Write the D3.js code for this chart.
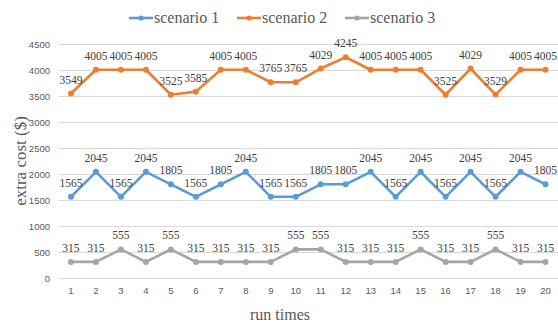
<!DOCTYPE html>
<html>
<head>
<meta charset="utf-8">
<script src="https://cdn.jsdelivr.net/npm/d3@7"></script>
<style>
  html, body { margin: 0; padding: 0; background: #fff; }
  svg { display: block; }
</style>
</head>
<body>
<svg id="chart" width="558" height="323"></svg>
<script>
// Run indices on the x axis
const runs = [1,2,3,4,5,6,7,8,9,10,11,12,13,14,15,16,17,18,19,20];

// Extra cost per run, one array per scenario
const scenario1 = [1565,2045,1565,2045,1805,1565,1805,2045,1565,1565,1805,1805,2045,1565,2045,1565,2045,1565,2045,1805];
const scenario2 = [3549,4005,4005,4005,3525,3585,4005,4005,3765,3765,4029,4245,4005,4005,4005,3525,4029,3529,4005,4005];
const scenario3 = [315,315,555,315,555,315,315,315,315,555,555,315,315,315,555,315,315,555,315,315];

const seriesNames = ["scenario 1", "scenario 2", "scenario 3"];
const seriesColors = ["#5B9BD5", "#ED7D31", "#A5A5A5"];
const yTicks = [0,500,1000,1500,2000,2500,3000,3500,4000,4500];

const series = [scenario1, scenario2, scenario3].map((vals, i) => ({
  name: seriesNames[i], color: seriesColors[i],
  points: vals.map((v, j) => ({ run: runs[j], value: v }))
}));

const svg = d3.select("#chart");
const plot = { left: 58.5, right: 558, top: 44, bottom: 278.3 };

const x = d3.scaleBand().domain(runs).range([plot.left, plot.right]).padding(0);
const cx = d => x(d) + x.bandwidth() / 2;
const y = d3.scaleLinear().domain([0, 4500]).range([plot.bottom, plot.top]);

// Horizontal gridlines
svg.append("g").selectAll("line").data(yTicks).join("line")
  .attr("x1", plot.left).attr("x2", plot.right)
  .attr("y1", d => Math.round(y(d)) + 0.5).attr("y2", d => Math.round(y(d)) + 0.5)
  .attr("stroke", "#D9D9D9").attr("stroke-width", 1);

// Y axis tick labels
const yAxis = d3.axisLeft(y).tickValues(yTicks).tickFormat(d3.format("d")).tickSize(0).tickPadding(0);
const gy = svg.append("g").attr("transform", `translate(50,0)`).call(yAxis);
gy.select(".domain").remove();
gy.selectAll("text")
  .attr("font-family", "'Liberation Sans', Arial, sans-serif")
  .attr("font-size", 9.5).attr("fill", "#595959").attr("dy", "0.35em");

// X axis tick labels
const xAxis = d3.axisBottom(x).tickSize(0).tickPadding(0);
const gx = svg.append("g").attr("transform", `translate(0,287)`).call(xAxis);
gx.select(".domain").remove();
gx.selectAll("text")
  .attr("font-family", "'Liberation Sans', Arial, sans-serif")
  .attr("font-size", 9.5).attr("fill", "#595959").attr("dy", "0.71em");

// Lines, markers and value labels
const line = d3.line().x(d => cx(d.run)).y(d => y(d.value));
series.forEach(s => {
  const g = svg.append("g");
  g.append("path").datum(s.points)
    .attr("d", line).attr("fill", "none")
    .attr("stroke", s.color).attr("stroke-width", 2.6)
    .attr("stroke-linejoin", "round").attr("stroke-linecap", "round");
  g.selectAll("circle").data(s.points).join("circle")
    .attr("cx", d => cx(d.run)).attr("cy", d => y(d.value))
    .attr("r", 3).attr("fill", s.color);
  g.selectAll("text").data(s.points).join("text")
    .attr("x", d => cx(d.run)).attr("y", d => y(d.value) - 10)
    .attr("text-anchor", "middle")
    .attr("font-family", "'Liberation Serif', 'Times New Roman', serif")
    .attr("font-size", 11.5).attr("fill", "#404040")
    .text(d => d.value);
});

// Legend
const legendItems = [
  { x: 129, name: seriesNames[0], color: seriesColors[0] },
  { x: 237, name: seriesNames[1], color: seriesColors[1] },
  { x: 345, name: seriesNames[2], color: seriesColors[2] }
];
const lg = svg.append("g");
legendItems.forEach(it => {
  lg.append("line").attr("x1", it.x).attr("x2", it.x + 24)
    .attr("y1", 18).attr("y2", 18)
    .attr("stroke", it.color).attr("stroke-width", 2.6);
  lg.append("circle").attr("cx", it.x + 12).attr("cy", 18).attr("r", 2.6).attr("fill", it.color);
  lg.append("text").attr("x", it.x + 25).attr("y", 18).attr("dy", "0.33em")
    .attr("font-family", "'Liberation Serif', 'Times New Roman', serif")
    .attr("font-size", 16).attr("fill", "#595959")
    .text(it.name);
});

// Axis titles
svg.append("text").attr("x", 280).attr("y", 315).attr("dy", "0.33em")
  .attr("text-anchor", "middle")
  .attr("font-family", "'Liberation Serif', 'Times New Roman', serif")
  .attr("font-size", 16).attr("fill", "#595959")
  .text("run times");

svg.append("text")
  .attr("transform", "translate(20,161) rotate(-90)")
  .attr("dy", "0.33em").attr("text-anchor", "middle")
  .attr("font-family", "'Liberation Serif', 'Times New Roman', serif")
  .attr("font-size", 17).attr("fill", "#595959")
  .text("extra cost ($)");
</script>
</body>
</html>
